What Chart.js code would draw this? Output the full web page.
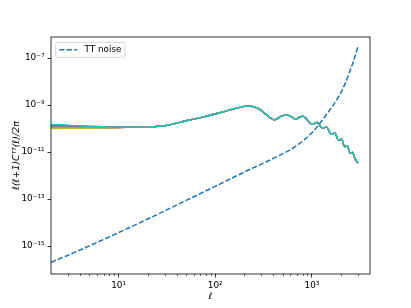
<!doctype html>
<html lang="en">
<head>
<meta charset="utf-8">
<title>TT spectra and noise</title>
<script src="https://cdn.jsdelivr.net/npm/chart.js@4.4.1/dist/chart.umd.min.js"></script>
<style>
  * { margin: 0; padding: 0; }
  body { background: #fff; width: 411px; height: 308px; overflow: hidden; }
</style>
</head>
<body>
<canvas id="cl" width="411" height="308"></canvas>
<script>
const spectraEll = [2, 3, 5, 8, 12, 20, 30, 50, 80, 120, 170, 220, 280, 340, 410, 480, 540, 610, 680, 750,
                    810, 900, 1000, 1130, 1280, 1420, 1580, 1730, 1880, 2030, 2180, 2330, 2480, 2630, 2800, 3000];
// the ten curves only differ at l = 2, 3, 5, 8
const lowSpectra = [
  [1.44e-10, 1.34e-10, 1.23e-10, 1.15e-10],
  [1.08e-10, 1.07e-10, 1.07e-10, 1.08e-10],
  [1.30e-10, 1.24e-10, 1.17e-10, 1.12e-10],
  [1.10e-10, 1.09e-10, 1.09e-10, 1.09e-10],
  [1.36e-10, 1.28e-10, 1.20e-10, 1.14e-10],
  [1.19e-10, 1.15e-10, 1.12e-10, 1.10e-10],
  [1.14e-10, 1.12e-10, 1.10e-10, 1.09e-10],
  [1.24e-10, 1.20e-10, 1.15e-10, 1.11e-10],
  [1.00e-10, 1.01e-10, 1.03e-10, 1.06e-10],
  [1.50e-10, 1.38e-10, 1.25e-10, 1.16e-10]
];
// from l = 12 on they lie on top of each other
const sharedSpectrum = [1.12e-10, 1.15e-10, 1.32e-10, 2.14e-10, 3.31e-10, 5.13e-10, 7.59e-10, 8.91e-10,
                        7.08e-10, 3.80e-10, 2.34e-10, 3.31e-10, 3.80e-10, 3.24e-10, 2.51e-10, 3.02e-10,
                        3.39e-10, 2.29e-10, 1.51e-10, 1.82e-10, 1.05e-10, 1.15e-10, 5.75e-11, 6.46e-11,
                        3.16e-11, 3.55e-11, 1.66e-11, 1.86e-11, 8.91e-12, 9.55e-12, 5.01e-12, 3.39e-12];

const noiseEll = [2, 3, 5, 10, 20, 50, 100, 200, 400, 700, 1000, 1430, 1950, 2200, 2420, 2700, 3000];
const noiseTT = [2.04e-16, 4.07e-16, 1.02e-15, 3.72e-15, 1.41e-14, 8.71e-14, 3.47e-13, 1.41e-12, 5.37e-12,
                 1.91e-11, 6.61e-11, 4.17e-10, 2.82e-9, 7.94e-9, 2.19e-8, 7.59e-8, 3.16e-7];

const xTickValues = [10, 100, 1000];
const xTickLabels = ['10¹', '10²', '10³'];
const xMinorValues = [3, 4, 5, 6, 7, 8, 9, 20, 30, 40, 50, 60, 70, 80, 90,
                      200, 300, 400, 500, 600, 700, 800, 900, 2000, 3000];
const yTickValues = [1e-15, 1e-13, 1e-11, 1e-9, 1e-7];
const yTickLabels = ['10⁻¹⁵', '10⁻¹³', '10⁻¹¹', '10⁻⁹', '10⁻⁷'];

const colors = ['#1f77b4', '#ff7f0e', '#2ca02c', '#d62728', '#9467bd',
                '#8c564b', '#e377c2', '#7f7f7f', '#bcbd22', '#17becf'];
const font = { family: 'DejaVu Sans', size: 8.9 };

let datasets = lowSpectra.map((low, i) => ({
  data: spectraEll.map((l, j) => ({ x: l, y: j < low.length ? low[j] : sharedSpectrum[j - low.length] })),
  borderColor: colors[i],
  borderWidth: 1.35,
  pointRadius: 0,
  cubicInterpolationMode: 'monotone',
  order: 20 - i
}));
datasets.push({
  label: 'TT noise',
  data: noiseEll.map((l, j) => ({ x: l, y: noiseTT[j] })),
  borderColor: colors[0],
  borderWidth: 1.5,
  borderDash: [5.2, 2.2],
  pointRadius: 0,
  cubicInterpolationMode: 'monotone',
  order: 0
});

// box round the axes plus the small x ticks
const frame = {
  id: 'frame',
  afterDatasetsDraw(chart) {
    const ctx = chart.ctx, a = chart.chartArea;
    const xs = chart.scales.x;
    ctx.save();
    ctx.strokeStyle = '#000';
    ctx.lineWidth = 0.8;
    ctx.strokeRect(a.left, a.top, a.right - a.left, a.bottom - a.top);
    ctx.lineWidth = 0.6;
    ctx.beginPath();
    xMinorValues.forEach(v => {
      const px = Math.round(xs.getPixelForValue(v)) + 0.5;
      ctx.moveTo(px, a.bottom);
      ctx.lineTo(px, a.bottom + 2);
    });
    ctx.stroke();
    ctx.restore();
  }
};

const legendBox = {
  id: 'legendBox',
  afterDraw(chart) {
    const ctx = chart.ctx, a = chart.chartArea;
    const ds = chart.data.datasets.find(d => d.label);
    const x = a.left + 4.7, y = a.top + 5.3, w = 69.3, h = 15;
    ctx.save();
    ctx.beginPath();
    ctx.roundRect(x, y, w, h, 2);
    ctx.fillStyle = 'rgba(255,255,255,0.8)';
    ctx.fill();
    ctx.strokeStyle = '#cccccc';
    ctx.lineWidth = 0.8;
    ctx.stroke();
    ctx.setLineDash(ds.borderDash);
    ctx.strokeStyle = ds.borderColor;
    ctx.lineWidth = ds.borderWidth;
    ctx.beginPath();
    ctx.moveTo(x + 3.6, y + h / 2);
    ctx.lineTo(x + 21.4, y + h / 2);
    ctx.stroke();
    ctx.setLineDash([]);
    ctx.fillStyle = '#000';
    ctx.font = '8.9px "DejaVu Sans"';
    ctx.textBaseline = 'middle';
    ctx.fillText(ds.label, x + 28.7, y + h / 2);
    ctx.restore();
  }
};

new Chart(document.getElementById('cl'), {
  type: 'line',
  data: { datasets },
  options: {
    responsive: false,
    animation: false,
    devicePixelRatio: 1,
    layout: { padding: { left: 0, top: 37, right: 41, bottom: 0 } },
    plugins: { legend: { display: false }, tooltip: { enabled: false } },
    scales: {
      x: {
        type: 'logarithmic',
        min: 2,
        max: 3990,
        afterFit: s => { s.height = 34; },
        afterBuildTicks: s => { s.ticks = xTickValues.map(v => ({ value: v })); },
        border: { display: false },
        grid: { drawOnChartArea: false, tickLength: 3.5, tickWidth: 0.8, tickColor: '#000' },
        ticks: { font, color: '#000', padding: 2.5, autoSkip: false, maxRotation: 0,
                 callback: (v, i) => xTickLabels[i] },
        title: { display: true, text: 'ℓ', color: '#000',
                 font: { family: 'DejaVu Sans', size: 8.9, style: 'italic' }, padding: { bottom: 5.7 } }
      },
      y: {
        type: 'logarithmic',
        min: 6.46e-17,
        max: 7.83e-7,
        afterFit: s => { s.width = 51; },
        afterBuildTicks: s => { s.ticks = yTickValues.map(v => ({ value: v })); },
        border: { display: false },
        grid: { drawOnChartArea: false, tickLength: 3.5, tickWidth: 0.8, tickColor: '#000' },
        ticks: { font, color: '#000', padding: 3, autoSkip: false,
                 callback: (v, i) => yTickLabels[i] },
        title: { display: true, text: 'ℓ(ℓ+1)Cᵀᵀ(ℓ)/2π', color: '#000',
                 font: { family: 'DejaVu Sans', size: 9.4, style: 'italic' }, padding: { top: 11 } }
      }
    }
  },
  plugins: [frame, legendBox]
});
</script>
</body>
</html>
